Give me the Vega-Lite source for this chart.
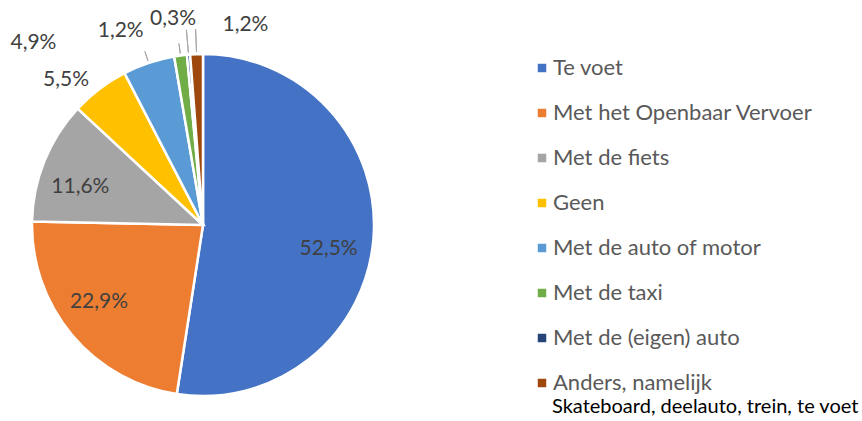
{
  "$schema": "https://vega.github.io/schema/vega-lite/v6.json",
  "width": 406,
  "height": 380,
  "autosize": {"type": "none"},
  "padding": {"left": 0, "top": 35, "right": 456, "bottom": 6},
  "background": "white",
  "data": {
    "values": [
      {"n": 1, "k": "Te voet", "pct": 52.5, "label": "52,5%"},
      {"n": 2, "k": "Met het Openbaar Vervoer", "pct": 22.9, "label": "22,9%"},
      {"n": 3, "k": "Met de fiets", "pct": 11.6, "label": "11,6%"},
      {"n": 4, "k": "Geen", "pct": 5.5, "label": "5,5%"},
      {"n": 5, "k": "Met de auto of motor", "pct": 4.9, "label": "4,9%"},
      {"n": 6, "k": "Met de taxi", "pct": 1.2, "label": "1,2%"},
      {"n": 7, "k": "Met de (eigen) auto", "pct": 0.3, "label": "0,3%"},
      {"n": 8, "k": "Anders, namelijk", "pct": 1.2, "label": "1,2%"}
    ]
  },
  "encoding": {
    "theta": {"field": "pct", "type": "quantitative", "stack": true},
    "order": {"field": "n", "type": "quantitative"}
  },
  "layer": [
    {
      "mark": {"type": "arc", "radius": 171, "stroke": "white", "strokeWidth": 2.5},
      "encoding": {
        "color": {
          "field": "k",
          "type": "nominal",
          "scale": {
            "domain": ["Te voet", "Met het Openbaar Vervoer", "Met de fiets", "Geen", "Met de auto of motor", "Met de taxi", "Met de (eigen) auto", "Anders, namelijk"],
            "range": ["#4472C4", "#ED7D31", "#A5A5A5", "#FFC000", "#5B9BD5", "#70AD47", "#264478", "#9E480E"]
          },
          "legend": {
            "orient": "none",
            "legendX": 552,
            "legendY": 22,
            "title": "Skateboard, deelauto, trein, te voet",
            "titleOrient": "bottom",
            "titleFont": "Lato",
            "titleFontSize": 20,
            "titleFontWeight": "normal",
            "titleColor": "black",
            "titleLimit": 400,
            "titlePadding": 3,
            "labelFont": "Lato",
            "labelFontSize": 22,
            "labelColor": "#595959",
            "labelLimit": 400,
            "labelOffset": 0,
            "symbolOffset": -21,
            "symbolType": "square",
            "symbolSize": 72,
            "symbolStrokeWidth": 0,
            "rowPadding": 23,
            "padding": 0
          }
        }
      }
    },
    {
      "mark": {"type": "arc", "radius": 196, "radius2": 173, "padAngle": 3, "fill": "transparent", "stroke": "#A6A6A6", "strokeWidth": 1},
      "encoding": {
        "strokeOpacity": {"condition": {"test": "datum.k === 'Met de (eigen) auto' || datum.k === 'Anders, namelijk'", "value": 1}, "value": 0}
      }
    },
    {
      "mark": {"type": "arc", "radius": 183, "radius2": 173, "padAngle": 3, "fill": "transparent", "stroke": "#A6A6A6", "strokeWidth": 1},
      "encoding": {
        "strokeOpacity": {"condition": {"test": "datum.k === 'Met de taxi' || datum.k === 'Met de auto of motor'", "value": 1}, "value": 0}
      }
    },
    {
      "mark": {"type": "text", "radius": 128, "dx": -2, "dy": 14, "fontSize": 21, "fill": "#404040", "font": "Lato"},
      "encoding": {"text": {"field": "label"}, "opacity": {"condition": {"test": "datum.k === 'Te voet'", "value": 1}, "value": 0}}
    },
    {
      "mark": {"type": "text", "radius": 128, "dx": -6, "dy": -5, "fontSize": 21, "fill": "#404040", "font": "Lato"},
      "encoding": {"text": {"field": "label"}, "opacity": {"condition": {"test": "datum.k === 'Met het Openbaar Vervoer'", "value": 1}, "value": 0}}
    },
    {
      "mark": {"type": "text", "radius": 128, "dx": -4, "dy": 10, "fontSize": 21, "fill": "#404040", "font": "Lato"},
      "encoding": {"text": {"field": "label"}, "opacity": {"condition": {"test": "datum.k === 'Met de fiets'", "value": 1}, "value": 0}}
    },
    {
      "mark": {"type": "text", "radius": 200, "dx": -16, "dy": 14, "fontSize": 21, "fill": "#404040", "font": "Lato"},
      "encoding": {"text": {"field": "label"}, "opacity": {"condition": {"test": "datum.k === 'Geen'", "value": 1}, "value": 0}}
    },
    {
      "mark": {"type": "text", "radius": 200, "dx": -106, "dy": 8, "fontSize": 21, "fill": "#404040", "font": "Lato"},
      "encoding": {"text": {"field": "label"}, "opacity": {"condition": {"test": "datum.k === 'Met de auto of motor'", "value": 1}, "value": 0}}
    },
    {
      "mark": {"type": "text", "radius": 200, "dx": -56, "dy": 4, "fontSize": 21, "fill": "#404040", "font": "Lato"},
      "encoding": {"text": {"field": "label"}, "opacity": {"condition": {"test": "datum.k === 'Met de taxi'", "value": 1}, "value": 0}}
    },
    {
      "mark": {"type": "text", "radius": 200, "dx": -13, "dy": -7, "fontSize": 21, "fill": "#404040", "font": "Lato"},
      "encoding": {"text": {"field": "label"}, "opacity": {"condition": {"test": "datum.k === 'Met de (eigen) auto'", "value": 1}, "value": 0}}
    },
    {
      "mark": {"type": "text", "radius": 200, "dx": 50, "dy": 0, "fontSize": 21, "fill": "#404040", "font": "Lato"},
      "encoding": {"text": {"field": "label"}, "opacity": {"condition": {"test": "datum.k === 'Anders, namelijk'", "value": 1}, "value": 0}}
    }
  ],
  "config": {"view": {"stroke": null}}
}
